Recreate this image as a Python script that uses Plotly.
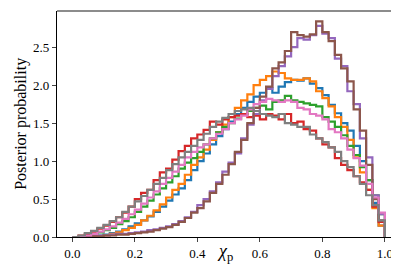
import numpy as np
import plotly.graph_objects as go

# 50 bins on [0, 1], normalised histogram heights
bin_edges = np.linspace(0.0, 1.0, 51)

blue = [0.0, 0.0, 0.01, 0.01, 0.02, 0.03, 0.05, 0.07, 0.10, 0.14,
        0.18, 0.22, 0.27, 0.33, 0.40, 0.48, 0.56, 0.64, 0.75, 0.88,
        1.00, 1.10, 1.22, 1.33, 1.42, 1.52, 1.62, 1.70, 1.78, 1.85,
        1.90, 1.96, 1.90, 1.98, 2.04, 2.07, 2.06, 2.09, 2.02, 1.96,
        1.87, 1.74, 1.63, 1.50, 1.40, 1.20, 1.00, 0.75, 0.45, 0.15]
orange = [0.0, 0.0, 0.0, 0.01, 0.01, 0.02, 0.04, 0.06, 0.09, 0.12,
          0.16, 0.22, 0.28, 0.35, 0.43, 0.52, 0.62, 0.70, 0.82, 0.95,
          1.05, 1.15, 1.28, 1.38, 1.48, 1.58, 1.70, 1.80, 1.88, 2.00,
          2.07, 2.12, 2.18, 2.16, 2.09, 2.07, 2.07, 2.09, 2.05, 1.92,
          1.83, 1.72, 1.58, 1.45, 1.28, 1.05, 0.85, 0.62, 0.38, 0.15]
green = [0.0, 0.01, 0.02, 0.04, 0.06, 0.09, 0.12, 0.17, 0.21, 0.26,
         0.33, 0.40, 0.48, 0.56, 0.64, 0.72, 0.80, 0.90, 0.98, 1.04,
         1.12, 1.22, 1.30, 1.38, 1.45, 1.50, 1.56, 1.62, 1.66, 1.70,
         1.73, 1.68, 1.78, 1.80, 1.86, 1.80, 1.78, 1.76, 1.74, 1.72,
         1.58, 1.52, 1.45, 1.34, 1.20, 1.08, 0.92, 0.75, 0.55, 0.30]
red = [0.0, 0.02, 0.04, 0.07, 0.11, 0.15, 0.20, 0.26, 0.32, 0.40,
       0.50, 0.58, 0.62, 0.75, 0.85, 0.90, 1.02, 1.13, 1.20, 1.30,
       1.35, 1.41, 1.52, 1.48, 1.55, 1.58, 1.60, 1.62, 1.58, 1.60,
       1.55, 1.62, 1.60, 1.55, 1.62, 1.50, 1.52, 1.42, 1.40, 1.30,
       1.22, 1.18, 1.04, 0.95, 0.88, 0.80, 0.72, 0.62, 0.40, 0.20]
purple = [0.0, 0.0, 0.01, 0.01, 0.02, 0.02, 0.03, 0.04, 0.04, 0.05,
          0.06, 0.07, 0.09, 0.10, 0.12, 0.14, 0.17, 0.21, 0.26, 0.33,
          0.42, 0.50, 0.60, 0.72, 0.86, 0.98, 1.10, 1.30, 1.48, 1.62,
          1.80, 1.95, 2.12, 2.25, 2.38, 2.50, 2.62, 2.60, 2.66, 2.78,
          2.68, 2.62, 2.35, 2.25, 1.92, 1.75, 1.30, 1.05, 0.55, 0.30]
brown = [0.0, 0.0, 0.0, 0.01, 0.01, 0.02, 0.02, 0.03, 0.03, 0.04,
         0.05, 0.06, 0.07, 0.09, 0.11, 0.13, 0.16, 0.20, 0.25, 0.32,
         0.38, 0.47, 0.58, 0.70, 0.82, 0.96, 1.12, 1.28, 1.50, 1.70,
         1.85, 1.98, 2.22, 2.30, 2.45, 2.70, 2.66, 2.64, 2.67, 2.84,
         2.70, 2.58, 2.40, 2.22, 2.05, 1.68, 1.40, 0.95, 0.50, 0.22]
pink = [0.0, 0.01, 0.02, 0.04, 0.07, 0.10, 0.14, 0.19, 0.24, 0.30,
        0.36, 0.44, 0.52, 0.60, 0.70, 0.78, 0.86, 0.95, 1.05, 1.12,
        1.18, 1.22, 1.30, 1.36, 1.42, 1.50, 1.55, 1.60, 1.68, 1.75,
        1.78, 1.82, 1.80, 1.78, 1.80, 1.78, 1.70, 1.68, 1.62, 1.60,
        1.55, 1.42, 1.38, 1.30, 1.15, 1.04, 0.94, 0.70, 0.52, 0.32]
gray = [0.0, 0.02, 0.05, 0.08, 0.12, 0.16, 0.21, 0.26, 0.33, 0.40,
        0.47, 0.54, 0.62, 0.70, 0.78, 0.88, 0.96, 1.05, 1.12, 1.20,
        1.28, 1.36, 1.45, 1.52, 1.57, 1.62, 1.66, 1.68, 1.70, 1.66,
        1.62, 1.60, 1.58, 1.62, 1.50, 1.48, 1.45, 1.45, 1.35, 1.30,
        1.25, 1.18, 1.12, 1.00, 0.92, 0.80, 0.70, 0.55, 0.42, 0.22]

series = [
    (blue, "#1f77b4"), (orange, "#ff7f0e"), (green, "#2ca02c"),
    (red, "#d62728"), (purple, "#9467bd"), (brown, "#8c564b"),
    (pink, "#e377c2"), (gray, "#7f7f7f"),
]

fig = go.Figure()
for vals, col in series:
    # step outline like matplotlib histtype="step"
    xs = np.concatenate([[bin_edges[0]], bin_edges])
    ys = np.concatenate([[0.0], vals, [0.0]])
    fig.add_trace(go.Scatter(x=xs, y=ys, mode="lines", line_shape="hv",
                             line=dict(color=col, width=2.2), showlegend=False,
                             hoverinfo="skip"))

font = "Liberation Serif"
fig.update_layout(
    width=399, height=266,
    margin=dict(l=49, r=9, t=3, b=37),
    plot_bgcolor="white", paper_bgcolor="white",
    font=dict(family=font, color="black", size=13),
    shapes=[
        dict(type="line", xref="paper", yref="paper", x0=0, x1=1, y0=1, y1=1,
             line=dict(color="#666666", width=1.5)),
        dict(type="line", xref="paper", yref="paper", x0=1, x1=1, y0=0, y1=1,
             line=dict(color="#666666", width=1.5)),
    ],
    annotations=[
        dict(text="<i>χ</i><sub>p</sub>", xref="x", yref="paper", x=0.49, y=-0.068,
             xanchor="center", yanchor="middle", showarrow=False,
             font=dict(family=font, size=18)),
        dict(text="Posterior probability", xref="paper", yref="paper",
             x=-0.106, y=0.5, xanchor="center", yanchor="middle", textangle=-90,
             showarrow=False, font=dict(family=font, size=16)),
    ],
)
fig.update_xaxes(range=[-0.049, 1.042], tickvals=[0, 0.2, 0.4, 0.6, 0.8, 1.0],
                 tickformat=".1f", ticks="outside", ticklen=4, tickwidth=1,
                 showline=True, linecolor="black", linewidth=1.2, showgrid=False,
                 zeroline=False)
fig.update_yaxes(range=[0, 2.977], tickvals=[0, 0.5, 1.0, 1.5, 2.0, 2.5],
                 tickformat=".1f", ticks="outside", ticklen=4, tickwidth=1,
                 showline=True, linecolor="black", linewidth=1.2, showgrid=False,
                 zeroline=False)

fig.write_html("out.html")
